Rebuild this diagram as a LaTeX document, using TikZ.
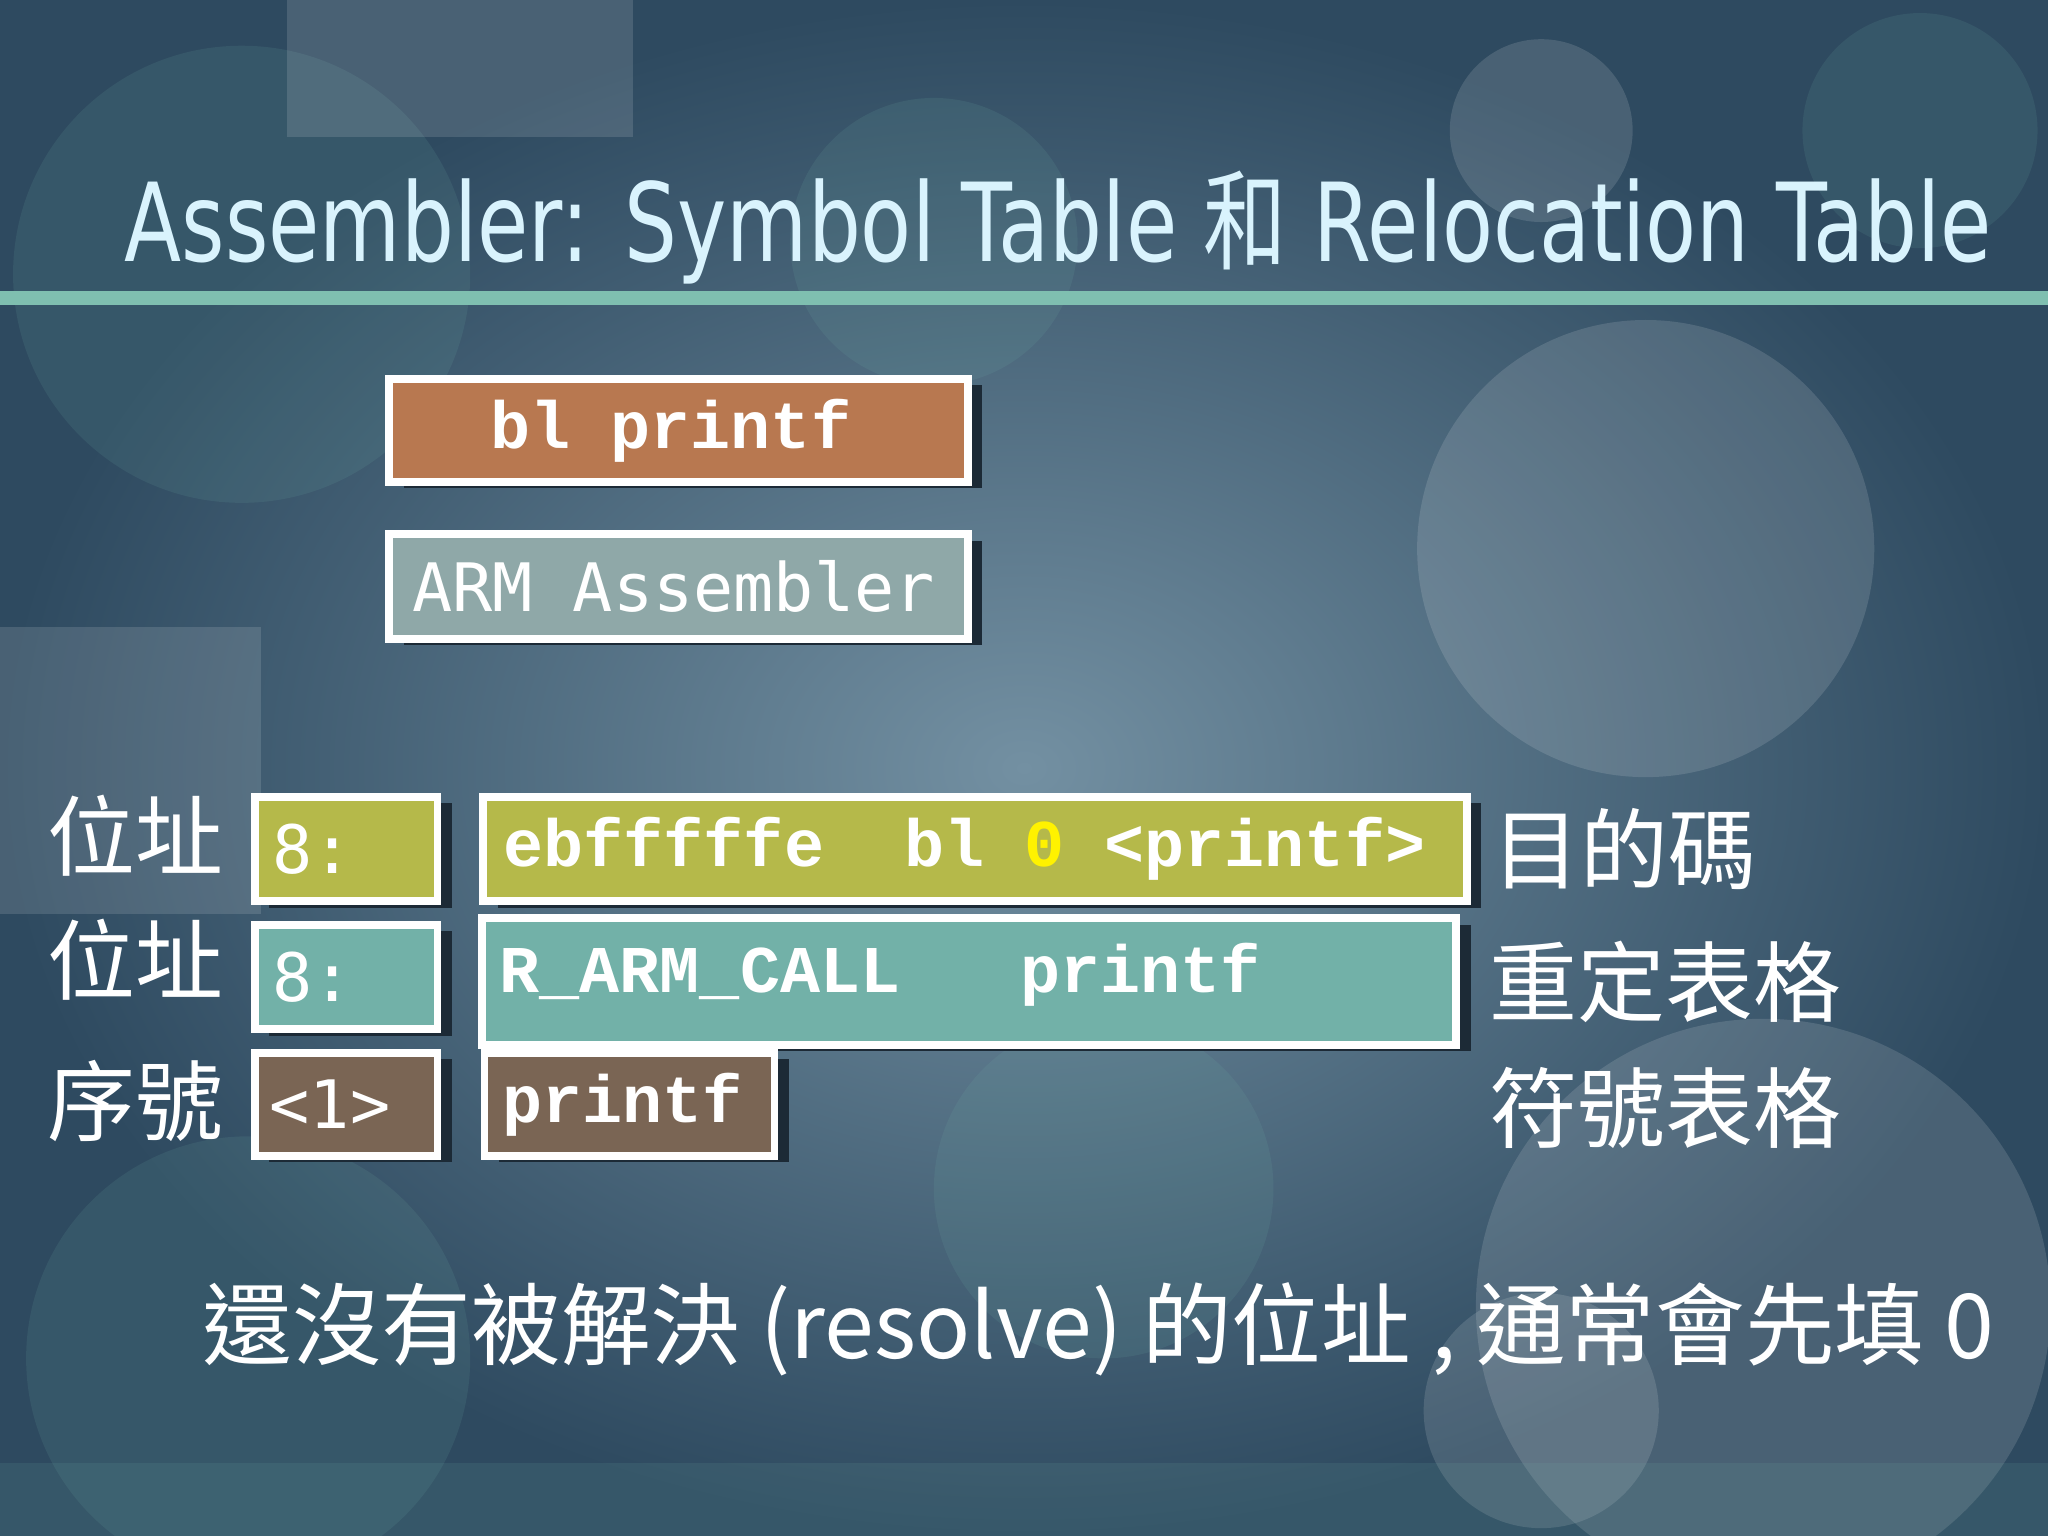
\documentclass[tikz,border=0pt]{standalone}
\usepackage{fontspec}
\usepackage{graphicx}
\setmainfont{DejaVu Sans}
\newfontfamily\cjk{Noto Sans CJK TC}
\newfontfamily\mono{Liberation Mono}
\newfontfamily\dmono{DejaVu Sans Mono}
\definecolor{bgA}{HTML}{2E4A60}
\definecolor{bgB}{HTML}{7390A2}
\definecolor{linec}{HTML}{7FBFB0}
\definecolor{cbrown}{HTML}{B87850}
\definecolor{cgray}{HTML}{8FA8A8}
\definecolor{colive}{HTML}{B5B94A}
\definecolor{cteal}{HTML}{72B1A8}
\definecolor{cdbrown}{HTML}{7A6554}
\definecolor{shad}{HTML}{1C2A36}
\tikzset{
 bx/.style={draw=white,line width=2.2pt,anchor=north west,inner sep=0pt},
 btx/.style={text=white,font=\mono\bfseries\fontsize{19}{22}\selectfont,anchor=west,inner sep=0pt},
 lbl/.style={text=white,font=\cjk\fontsize{25}{28}\selectfont,anchor=west,inner sep=0pt}
}
\newcommand{\shbox}[8]{% name,x1,y1,x2,y2,color,textoffset,text
 \fill[shad] (#2+14,#3+8) rectangle (#4+14,#5+8);
 \node[bx,fill=#6,minimum width=(#4-#2)*0.01306cm,minimum height=(#5-#3)*0.01306cm] (#1) at (#2,#3) {};
 \node[btx] (#1t) at ($(#1.west)+(#7,0)$) {#8};
}
\usetikzlibrary{calc}
\begin{document}
\begin{tikzpicture}[x=0.01306cm,y=-0.01306cm]
\useasboundingbox (0,0) rectangle (1568,1176);
\shade[inner color=bgB,outer color=bgA] (0,0) rectangle (1568,1176);
\begin{scope}[opacity=0.13]
\fill[cteal] (185,210) circle (175);
\fill[white] (1260,420) circle (175);
\fill[cteal] (715,185) circle (110);
\fill[white] (1180,100) circle (70);
\fill[cteal] (1470,100) circle (90);
\fill[cteal] (190,1040) circle (170);
\fill[white] (1350,1000) circle (220);
\fill[cteal] (845,910) circle (130);
\fill[white] (1180,1080) circle (90);
\fill[white] (220,0) rectangle (485,105);
\fill[white] (0,480) rectangle (200,700);
\fill[cteal] (0,1120) rectangle (1568,1176);
\end{scope}
\node[text=white!85!cyan,font=\fontsize{31}{34}\selectfont,anchor=base west,inner sep=0pt] (title) at (95,200) {\scalebox{0.765}[1]{Assembler: Symbol Table {\cjk 和} Relocation Table}};
\draw[linec,line width=4pt] (0,228) -- (1568,228);
\shbox{b1}{295}{287}{738}{366}{cbrown}{80}{bl~printf}
\shbox{b2}{295}{406}{738}{486}{cgray}{20}{\dmono\mdseries ARM~Assembler}
\shbox{a1}{192}{607}{332}{687}{colive}{16}{\dmono\mdseries 8:}
\shbox{c1}{367}{607}{1120}{687}{colive}{18}{ebfffffe~~bl~\textcolor{yellow}{0}~<printf>}
\shbox{a2}{192}{705}{332}{785}{cteal}{16}{\dmono\mdseries 8:}
\shbox{c2}{366}{700}{1112}{797}{cteal}{16}{\raisebox{8pt}{R\_ARM\_CALL~~~printf}}
\shbox{a3}{192}{803}{332}{882}{cdbrown}{14}{\dmono\mdseries <1>}
\shbox{c3}{368}{803}{590}{882}{cdbrown}{16}{\raisebox{-4pt}{printf}}
\node[lbl] (l1) at (36,640) {位址};
\node[lbl] (l2) at (36,735) {位址};
\node[lbl] (l3) at (36,843) {序號};
\node[lbl] (r1) at (1142,650) {目的碼};
\node[lbl] (r2) at (1140,752) {重定表格};
\node[lbl] (r3) at (1140,848) {符號表格};
\node[text=white,font=\cjk\fontsize{25.5}{30}\selectfont,inner sep=0pt] (bot) at (841,1018) {還沒有被解決 (resolve) 的位址 , 通常會先填 0};
\end{tikzpicture}
\end{document}
